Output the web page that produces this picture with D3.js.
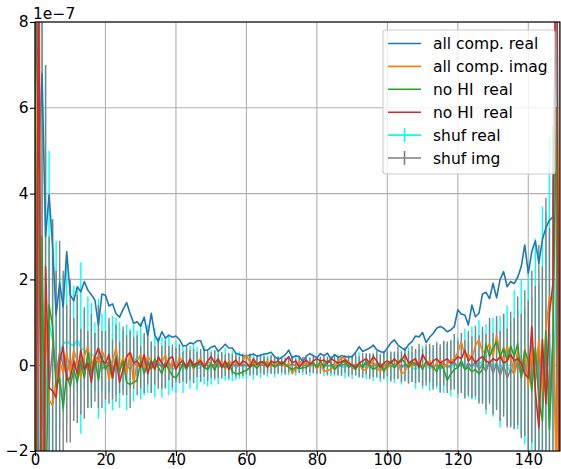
<!DOCTYPE html>
<html><head><meta charset="utf-8">
<script src="https://cdn.jsdelivr.net/npm/d3@7"></script>
<style>body{margin:0;background:#fff}svg{display:block}text{font-family:"DejaVu Sans",sans-serif;white-space:pre}</style>
</head><body><svg id="c" width="561" height="469"></svg>
<script>
// values in units of 1e-7, index = x (0..149)
const allReal = [9.5,4.6,6.8,3.0,3.97,2.76,1.17,1.92,1.36,2.65,1.64,1.5,1.83,1.71,1.95,1.75,1.64,1.52,0.94,1.66,
1.63,1.38,1.43,1.20,1.12,1.30,1.46,1.20,0.98,1.01,0.91,1.12,0.68,1.21,0.70,0.55,0.78,0.63,0.70,0.65,
0.68,0.60,0.45,0.46,0.52,0.50,0.57,0.57,0.35,0.35,0.42,0.45,0.32,0.40,0.49,0.40,0.40,0.28,0.25,0.22,
0.21,0.24,0.26,0.21,0.23,0.26,0.27,0.30,0.20,0.14,0.18,0.24,0.35,0.17,0.22,0.20,0.08,0.21,0.27,0.22,
0.17,0.27,0.22,0.28,0.14,0.25,0.18,0.22,0.20,0.19,0.20,0.30,0.43,0.32,0.36,0.40,0.47,0.36,0.32,0.29,
0.40,0.52,0.59,0.47,0.41,0.35,0.48,0.55,0.68,0.66,0.76,0.53,0.65,0.74,0.86,0.90,0.86,0.78,0.82,0.90,
1.29,1.19,1.17,0.94,1.40,1.13,1.21,1.66,1.70,1.55,1.91,1.57,2.00,2.18,1.83,1.95,1.90,2.05,2.30,2.80,
2.14,2.65,2.90,2.38,2.93,3.20,3.38,3.45,10,12];
const allImag = [-6,12,-5,1.5,-0.8,-0.95,-0.3,0.1,-0.2,0.3,-0.15,0.35,0.1,-0.3,0.2,0.45,-0.1,0.25,0.05,0.35,
0.15,-0.35,0.1,0.4,-0.1,0.2,-0.2,0.3,-0.45,0.1,0.25,-0.05,0.2,0.1,-0.1,0.15,0.05,0.25,-0.15,0.1,
-0.1,0.2,0.05,-0.05,0.12,-0.1,0.08,0.15,-0.05,0.1,0.02,-0.08,0.12,0.05,-0.1,0.1,0.03,0.08,-0.02,0.1,
0.25,0.05,0.12,-0.05,0.08,0.02,0.1,-0.05,0.05,0.0,0.08,-0.05,0.05,-0.2,-0.05,0.1,0.02,0.05,-0.02,0.08,
-0.1,0.05,-0.15,-0.12,-0.1,0.0,0.05,0.2,0.15,0.08,-0.05,-0.1,0.05,-0.12,-0.1,0.02,0.08,-0.05,-0.15,0.05,
-0.1,0.08,-0.05,0.1,-0.2,-0.15,0.05,-0.05,0.1,0.05,-0.05,0.02,0.1,-0.1,0.05,0.12,-0.05,0.02,0.1,0.15,
0.3,0.55,0.2,0.25,0.15,0.45,0.6,0.3,0.35,0.5,0.2,0.7,0.3,0.1,0.45,0.2,-0.2,0.35,-0.3,0.4,
-0.5,0.3,-0.2,0.6,-0.6,0.8,1.6,1.5,-3,5];
const noHIa = [8,-10,3,-4,1.4,0.9,-0.5,-0.3,-1.0,-0.2,-0.5,-0.1,-0.4,0.1,-0.3,0.3,-0.2,0.15,-0.35,0.2,
-0.1,0.05,-0.3,0.2,-0.15,0.1,-0.4,-0.45,-0.4,-0.35,0.1,-0.2,0.05,-0.1,0.15,-0.05,-0.2,0.05,-0.1,-0.25,
-0.3,-0.15,0.05,-0.1,0.1,-0.05,0.0,0.08,-0.05,-0.1,0.05,-0.12,0.1,0.0,-0.05,0.05,-0.15,-0.2,-0.2,-0.15,
-0.12,-0.05,0.03,-0.08,0.05,0.1,-0.02,0.05,-0.05,0.02,0.08,0.02,-0.05,-0.1,-0.05,-0.08,-0.06,-0.05,0.02,0.05,
-0.05,0.1,-0.05,0.1,0.05,-0.1,-0.02,0.05,0.1,-0.05,0.0,-0.1,0.05,-0.05,0.1,-0.02,-0.1,-0.05,0.05,-0.15,
0.0,0.1,-0.05,0.05,0.15,0.05,-0.05,0.08,0.02,0.05,-0.1,0.1,0.0,-0.05,-0.15,0.05,-0.1,-0.35,-0.2,-0.1,
-0.05,0.1,-0.1,-0.05,-0.15,-0.1,-0.2,-0.1,0.5,0.2,0.4,0.55,0.2,0.4,0.1,0.45,0.2,0.5,-0.3,0.35,
0.1,-0.6,0.4,-0.8,-1.3,0.8,-1.5,0.5,6,-5];
const noHIb = [-10,10,-8,2.3,-0.53,-0.6,-0.75,0.1,0.43,-0.35,-0.3,0.1,-0.2,0.35,-0.1,0.05,-0.4,0.2,0.4,0.1,
0.05,0.25,-0.3,0.15,-0.4,-0.1,0.2,0.3,0.05,0.1,-0.05,0.25,-0.2,0.1,-0.1,0.2,0.05,-0.05,0.15,0.2,
-0.1,0.05,0.1,-0.05,0.15,0.0,0.05,0.1,-0.05,0.1,0.2,0.05,0.15,-0.05,0.1,-0.1,0.05,0.12,0.0,0.1,
0.05,-0.05,0.15,0.02,0.08,0.05,-0.05,0.1,0.05,0.1,0.02,0.1,0.2,0.05,0.1,-0.05,0.05,0.12,0.02,0.1,
0.15,0.1,0.12,0.05,0.15,0.1,0.05,0.08,0.12,0.05,0.0,-0.05,0.05,0.1,0.15,0.05,0.2,0.1,-0.05,0.05,
0.1,0.05,0.15,0.05,0.1,0.25,0.05,0.1,0.15,-0.05,0.25,0.1,0.0,0.1,0.15,0.05,0.1,0.15,0.05,0.1,
0.2,0.15,0.35,0.1,0.2,0.05,0.15,0.2,0.1,0.05,0.15,0.1,0.2,0.05,0.1,0.25,0.1,0.15,0.05,-0.2,
-0.3,0.9,-0.6,-1.46,0.6,-0.9,1.2,1.9,12,-6];
const shufReal = [3,-4,2,-1,1.0,0.6,-0.3,0.3,0.5,0.55,0.5,0.45,0.6,0.4,0.35,0.3,0.25,0.2,0.15,0.3,
0.1,0.15,0.05,0.2,0.0,0.1,-0.05,0.15,0.05,0.2,0.1,0.0,0.15,-0.05,0.05,0.1,-0.05,0.05,0.0,-0.1,
-0.05,0.05,-0.1,0.0,-0.05,0.05,-0.08,-0.05,0.0,-0.1,-0.05,0.0,-0.05,-0.02,0.02,-0.05,-0.02,-0.05,0.0,-0.03,
-0.02,0.0,-0.04,0.0,-0.02,0.02,-0.02,0.0,-0.03,0.01,-0.02,0.0,-0.01,0.02,-0.02,0.0,-0.02,0.01,-0.03,0.0,
-0.02,0.01,-0.03,0.0,-0.02,-0.05,0.0,-0.03,-0.05,0.0,-0.04,-0.02,0.0,-0.05,-0.03,0.0,-0.05,-0.02,-0.06,0.0,
-0.04,-0.02,-0.06,0.0,-0.05,-0.03,0.0,-0.05,-0.1,-0.02,-0.05,0.02,-0.08,-0.05,0.0,-0.1,-0.05,0.0,-0.08,0.05,
-0.05,0.0,0.05,-0.1,0.05,-0.05,0.1,0.0,-0.1,0.1,-0.05,0.05,-0.15,0.1,0.0,-0.2,0.15,-0.1,0.2,-0.25,
0.1,-0.3,0.35,-0.4,0.5,-0.6,0.8,-1.0,2,-3];
const shufRealErr = [15,14,12,8,4.0,2.8,3.2,1.8,1.6,1.9,0.6,1.4,1.2,2.0,0.9,1.3,1.2,0.8,1.4,0.9,
1.2,0.8,1.1,0.9,1.0,0.7,1.0,0.7,0.9,0.6,0.9,0.7,0.8,0.6,0.8,0.5,0.7,0.6,0.7,0.5,
0.6,0.45,0.55,0.4,0.5,0.45,0.5,0.35,0.45,0.4,0.4,0.35,0.4,0.3,0.38,0.3,0.35,0.3,0.32,0.28,
0.3,0.25,0.3,0.22,0.28,0.22,0.25,0.2,0.25,0.2,0.22,0.18,0.22,0.2,0.22,0.18,0.2,0.18,0.22,0.18,
0.2,0.18,0.22,0.2,0.24,0.2,0.25,0.22,0.26,0.22,0.28,0.22,0.3,0.25,0.3,0.25,0.32,0.28,0.33,0.28,
0.35,0.3,0.36,0.3,0.4,0.33,0.42,0.35,0.45,0.38,0.5,0.4,0.52,0.45,0.55,0.5,0.6,0.5,0.65,0.55,
0.7,0.6,0.8,0.65,0.85,0.75,0.95,0.8,1.05,0.9,1.15,1.0,1.3,1.1,1.4,1.2,1.6,1.4,1.8,1.6,
2.2,1.9,2.6,2.3,3.2,4.2,4.5,5.0,9,12];
const shufImg = [-2,3,-1.5,1.0,-0.5,0.4,-0.2,0.3,0.0,-0.2,0.1,-0.1,0.15,-0.15,0.05,-0.1,0.1,-0.05,0.2,-0.1,
0.0,0.1,-0.1,0.05,-0.05,0.1,0.0,-0.1,0.05,0.0,-0.05,0.05,0.1,-0.05,0.0,0.05,-0.05,0.02,0.05,-0.02,
0.0,0.03,-0.03,0.02,0.0,-0.02,0.02,0.0,0.03,-0.02,0.0,0.02,-0.02,0.01,0.0,-0.01,0.02,0.0,-0.02,0.01,
0.0,0.02,-0.02,0.0,0.02,-0.01,0.0,0.02,-0.02,0.0,0.01,-0.02,0.0,0.02,-0.01,0.0,0.02,-0.02,0.0,0.01,
-0.02,0.0,0.02,-0.02,0.0,0.02,-0.03,0.0,0.03,-0.02,0.0,0.02,-0.03,0.0,0.03,-0.02,0.0,0.03,-0.03,0.0,
0.04,-0.03,0.0,0.05,-0.04,0.02,-0.05,0.03,-0.02,0.05,-0.05,0.0,0.05,-0.05,0.02,-0.08,0.05,-0.05,0.0,0.08,
-0.05,0.05,-0.1,0.05,-0.05,0.1,-0.1,0.0,-0.15,0.1,-0.2,0.05,-0.25,0.0,-0.3,-0.1,-0.2,0.1,-0.25,0.05,
-0.3,0.2,-0.35,0.3,-0.5,0.4,-0.8,0.6,-2,3];
const shufImgErr = [14,12,10,6,3.5,3.0,2.4,2.6,2.2,1.6,1.9,1.2,1.5,1.0,1.3,0.9,1.1,0.8,1.2,0.9,
0.8,1.0,0.7,0.9,0.6,0.8,0.7,0.9,0.6,0.7,0.5,0.7,0.55,0.6,0.45,0.6,0.5,0.55,0.4,0.5,
0.4,0.45,0.35,0.45,0.35,0.4,0.3,0.38,0.3,0.35,0.3,0.33,0.28,0.3,0.25,0.3,0.24,0.28,0.22,0.26,
0.22,0.25,0.2,0.24,0.2,0.22,0.18,0.22,0.18,0.2,0.18,0.2,0.17,0.2,0.16,0.19,0.17,0.2,0.17,0.2,
0.18,0.2,0.18,0.22,0.19,0.22,0.2,0.24,0.2,0.25,0.22,0.26,0.24,0.28,0.25,0.3,0.27,0.3,0.28,0.33,
0.3,0.35,0.32,0.38,0.35,0.4,0.38,0.42,0.4,0.45,0.43,0.48,0.45,0.52,0.5,0.56,0.52,0.6,0.58,0.65,
0.62,0.7,0.68,0.75,0.72,0.82,0.8,0.9,0.88,1.0,0.95,1.1,1.05,1.2,1.15,1.35,1.3,1.5,1.45,1.7,
1.8,2.0,2.2,2.5,2.8,3.5,4.0,5.0,8,11];
const xTicks = [0,20,40,60,80,100,120,140];
const yTicks = [-2,0,2,4,6,8];
const legendLabels = ["all comp. real","all comp. imag","no HI  real","no HI  real","shuf real","shuf img"];
const colors = ["#1f77b4","#ff7f0e","#2ca02c","#d62728","#00ffff","#808080"];

const FS = 15.5;
const svg = d3.select("#c");
const L=35, R=560, T=22, B=451;
const x = d3.scaleLinear().domain([0,149]).range([L,R]);
const y = d3.scaleLinear().domain([-2,8]).range([B,T]);

svg.append("defs").append("clipPath").attr("id","clip").append("rect")
  .attr("x",L).attr("y",T).attr("width",R-L).attr("height",B-T);

// grid
const g = svg.append("g");
g.selectAll(".gx").data(xTicks).join("line").attr("x1",d=>x(d)).attr("x2",d=>x(d)).attr("y1",T).attr("y2",B)
  .attr("stroke","#b0b0b0").attr("stroke-width",1.1);
g.selectAll(".gy").data(yTicks).join("line").attr("y1",d=>y(d)).attr("y2",d=>y(d)).attr("x1",L).attr("x2",R)
  .attr("stroke","#b0b0b0").attr("stroke-width",1.1);

const plot = svg.append("g").attr("clip-path","url(#clip)");
const line = d3.line().x((d,i)=>x(i)).y(d=>y(d));

function errbar(vals, errs, color){
  const gg = plot.append("g");
  gg.selectAll("line").data(vals).join("line")
    .attr("x1",(d,i)=>x(i)).attr("x2",(d,i)=>x(i))
    .attr("y1",(d,i)=>y(d-errs[i])).attr("y2",(d,i)=>y(d+errs[i]))
    .attr("stroke",color).attr("stroke-width",1.4);
  gg.append("path").attr("d",line(vals)).attr("fill","none").attr("stroke",color).attr("stroke-width",1.5);
}
errbar(shufReal, shufRealErr, colors[4]);
errbar(shufImg, shufImgErr, colors[5]);
[allReal, allImag, noHIa, noHIb].forEach((s,k)=>{
  plot.append("path").attr("d",line(s)).attr("fill","none").attr("stroke",colors[k])
    .attr("stroke-width",1.6).attr("stroke-linejoin","round");
});

// axes
const xa = svg.append("g").attr("transform",`translate(0,${B})`)
  .call(d3.axisBottom(x).tickValues(xTicks).tickSize(5).tickPadding(0).tickFormat(d3.format("d")));
const ya = svg.append("g").attr("transform",`translate(${L},0)`)
  .call(d3.axisLeft(y).tickValues(yTicks).tickSize(5).tickPadding(1.5).tickFormat(d=>d<0?"\u2212"+Math.abs(d):String(d)));
[xa,ya].forEach(a=>{
  a.select(".domain").remove();
  a.selectAll(".tick line").attr("stroke","#000").attr("stroke-width",1.1);
  a.selectAll(".tick text").attr("font-size",FS).attr("fill","#000").attr("font-family","DejaVu Sans");
});
xa.selectAll(".tick text").attr("font-size",15).attr("y",null).attr("dy",null).attr("y",14);
// spines
svg.append("rect").attr("x",L).attr("y",T).attr("width",R-L).attr("height",B-T)
  .attr("fill","none").attr("stroke","#000").attr("stroke-width",1.1);

svg.append("text").attr("x",33).attr("y",19).attr("font-size",FS).text("1e\u22127");

// legend
const lg = svg.append("g");
lg.append("rect").attr("x",383).attr("y",30).attr("width",172).attr("height",144).attr("rx",3)
  .attr("fill","#fff").attr("fill-opacity",0.8).attr("stroke","#cccccc").attr("stroke-width",1.1);
legendLabels.forEach((lab,i)=>{
  const yy = 43.5 + i*22.9;
  lg.append("line").attr("x1",388).attr("x2",421).attr("y1",yy).attr("y2",yy)
    .attr("stroke",colors[i]).attr("stroke-width",1.6);
  if(i>=4){
    lg.append("line").attr("x1",404.5).attr("x2",404.5).attr("y1",yy-7).attr("y2",yy+7)
      .attr("stroke",colors[i]).attr("stroke-width",1.6);
  }
  lg.append("text").attr("x",433).attr("y",yy).attr("dy","0.36em").attr("font-size",FS)
    .attr("xml:space","preserve").text(lab);
});
</script></body></html>
